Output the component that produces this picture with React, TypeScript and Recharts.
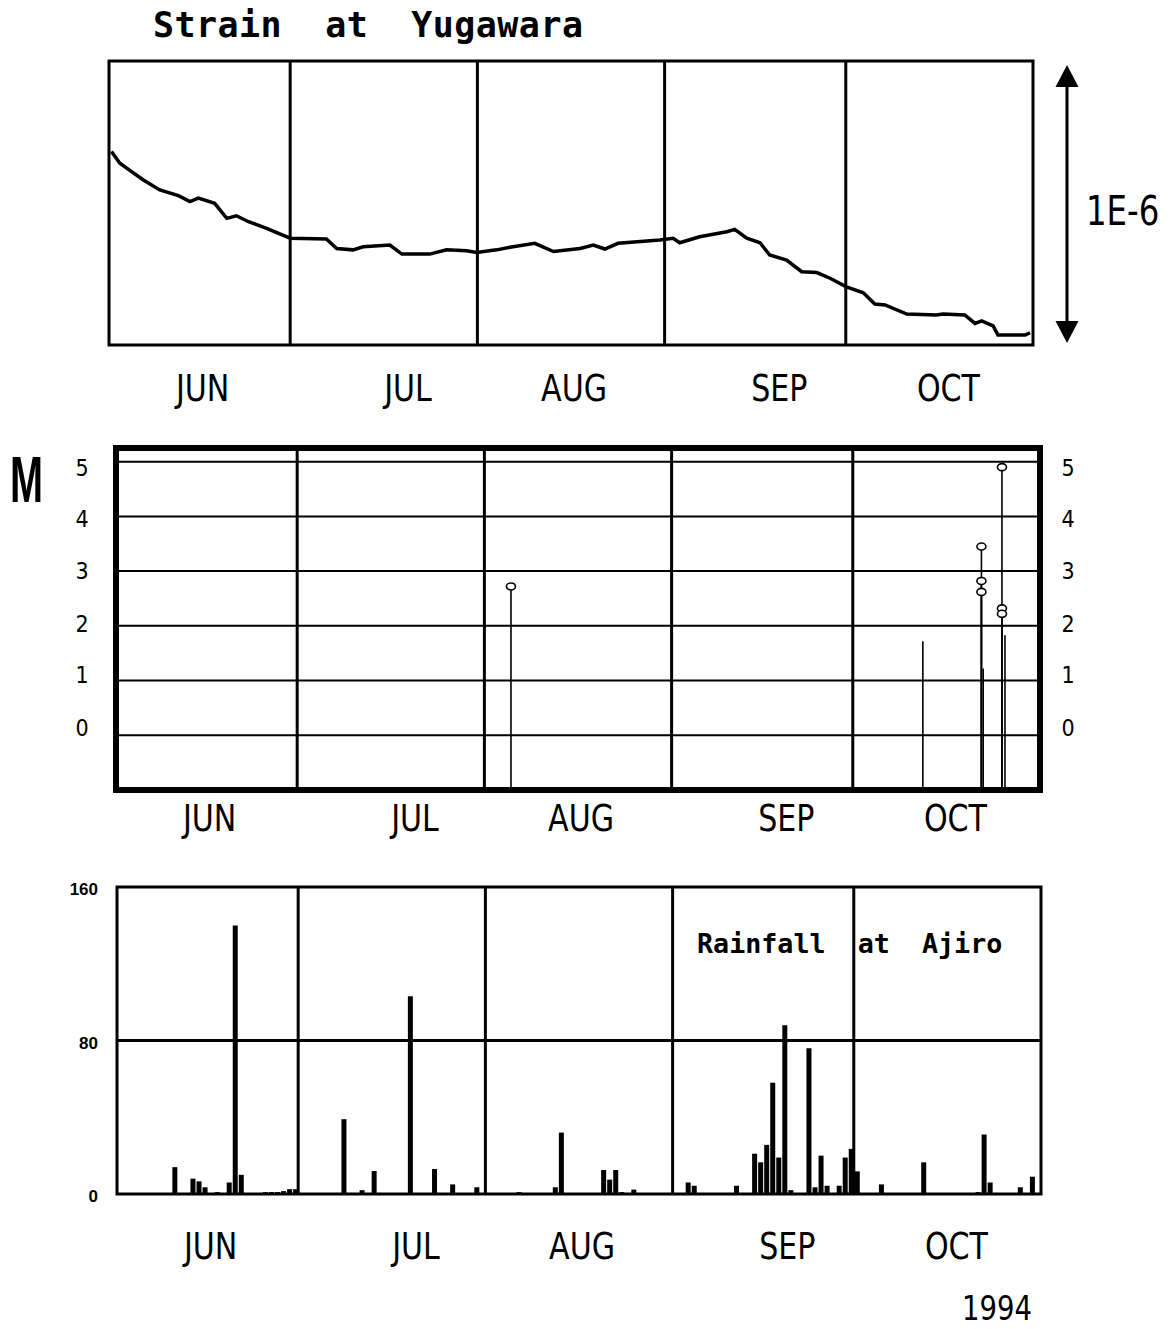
import React from 'react';
import {
  ComposedChart,
  Line,
  Bar,
  Scatter,
  XAxis,
  YAxis,
  ReferenceLine,
  ReferenceArea,
} from 'recharts';

// ---------- shared axis data ----------
const dayDomain: [number, number] = [-0.5, 152.5]; // day index, 0 = 1 June 1994
const monthBoundaries = [29.5, 60.5, 91.5, 121.5];
const monthLabelDays = [15, 49, 76.5, 110.5, 138.5];
const monthLabels = ['JUN', 'JUL', 'AUG', 'SEP', 'OCT'];

// ---------- strain at Yugawara (relative, panel height = 1) ----------
const strainDays = [
  -0.1, 1.3, 3.0, 5.2, 7.9, 11.0, 12.9, 14.3, 17.0, 19.0, 20.6, 22.6, 25.6, 29.5, 35.5,
  37.2, 39.9, 41.6, 46.0, 48.0, 52.6, 55.4, 58.7, 60.4, 63.7, 65.9, 70.0, 73.1, 77.5, 79.7,
  81.6, 83.8, 90.7, 92.9, 94.0, 97.3, 101.8, 103.1, 105.1, 107.3, 108.9, 111.7, 114.2, 116.7,
  118.9, 121.6, 124.4, 126.3, 128.0, 131.6, 136.5, 137.6, 141.2, 142.9, 144.0, 145.9, 146.7,
  151.2, 152.0,
];
const strainValues = [
  0.681, 0.64, 0.614, 0.581, 0.546, 0.526, 0.505, 0.517, 0.499, 0.446, 0.455, 0.434, 0.411,
  0.376, 0.373, 0.34, 0.335, 0.346, 0.352, 0.32, 0.32, 0.335, 0.332, 0.326, 0.335, 0.344,
  0.358, 0.329, 0.34, 0.352, 0.338, 0.358, 0.37, 0.376, 0.36, 0.381, 0.399, 0.407, 0.376,
  0.36, 0.317, 0.299, 0.258, 0.255, 0.235, 0.205, 0.184, 0.144, 0.141, 0.109, 0.106, 0.109,
  0.106, 0.076, 0.085, 0.067, 0.035, 0.035, 0.043,
];

// ---------- earthquakes (magnitude M) ----------
const magDomain: [number, number] = [-1, 5.25];
const magGrid = [0, 1, 2, 3, 4, 5];
const magTickPositions = [0.14, 1.1, 2.04, 3.0, 3.96, 4.89];
const magTickLabels = ['0', '1', '2', '3', '4', '5'];
const quakeDays = [64.9, 133.1, 142.8, 142.8, 142.8, 143.1, 146.2, 146.2, 146.2, 146.7];
const quakeMags = [2.72, 1.72, 3.45, 2.82, 2.62, 1.22, 4.9, 2.32, 2.22, 1.83];
const quakeCircled = [true, false, true, true, true, false, true, true, true, false];

// ---------- rainfall at Ajiro (mm/day) ----------
const rainTicks = [0, 80, 160];
const rainDays = [
  9, 12, 13, 14, 16, 18, 19, 20, 24, 25, 26, 27, 28, 29, 37, 40, 42, 48, 52, 55, 59, 66, 72,
  73, 80, 81, 82, 83, 85, 94, 95, 102, 105, 106, 107, 108, 109, 110, 111, 114, 115, 116, 117,
  119, 120, 121, 122, 126, 133, 142, 143, 144, 149, 151,
];
const rainValues = [
  14, 8, 6.6, 3.5, 1, 6, 140, 10, 1, 1, 1, 1.5, 2.5, 2.5, 39, 2, 12, 103, 13, 5, 3.5, 1, 3.5,
  32, 12.5, 7.5, 12.5, 1, 2.3, 6, 4.3, 4.3, 21, 16.5, 25.6, 58, 19, 88, 2, 76, 3.5, 20, 4.3,
  4.3, 19, 23.5, 11.8, 5, 16.5, 1, 31, 6, 3.5, 9,
];

const NARROW = "'Liberation Sans Narrow', 'DejaVu Sans Condensed', 'Liberation Sans', sans-serif";
const MONO = "'DejaVu Sans Mono', 'Liberation Mono', monospace";
const SANS = "'Liberation Sans', Arial, sans-serif";

const strainData = strainDays.map((d, i) => ({ day: d, value: strainValues[i] }));
const quakes = quakeDays.map((d, i) => ({ day: d, mag: quakeMags[i], circled: quakeCircled[i] }));
const circledQuakes = quakes.filter((q) => q.circled);
const rainData = rainDays.map((d, i) => ({ day: d, rain: rainValues[i] }));

const makeMonthTick = (dy: number) => (props: any) => {
  const { x, y, payload } = props;
  const i = monthLabelDays.indexOf(payload.value);
  return (
    <text
      transform={`translate(${x},${y}) scale(0.88,1)`}
      x={0}
      y={0}
      dy={dy}
      textAnchor="middle"
      fontFamily={NARROW}
      fontSize={38}
      fill="#000"
    >
      {monthLabels[i]}
    </text>
  );
};

const makeMagTick = (dx: number) => (props: any) => {
  const { x, y, payload } = props;
  const i = magTickPositions.indexOf(payload.value);
  return (
    <text x={x + dx} y={y} dy={8} textAnchor="middle" fontFamily={NARROW} fontSize={23} fill="#000">
      {magTickLabels[i]}
    </text>
  );
};

const RainTick = (props: any) => {
  const { x, y, payload } = props;
  return (
    <text x={x - 11} y={y} dy={8} textAnchor="end" fontFamily={SANS} fontWeight="bold" fontSize={17} fill="#000">
      {payload.value}
    </text>
  );
};

const QuakeMarker = (props: any) => {
  const { cx, cy } = props;
  return <ellipse cx={cx} cy={cy} rx={4.5} ry={3.5} fill="#fff" stroke="#000" strokeWidth={1.6} />;
};

function StrainChart() {
  return (
    <div style={{ position: 'absolute', left: 0, top: 0 }}>
      <ComposedChart width={1170} height={430} data={strainData} margin={{ top: 61, left: 109, right: 137, bottom: 25 }}>
        <XAxis
          dataKey="day"
          type="number"
          domain={dayDomain}
          ticks={monthLabelDays}
          interval={0}
          axisLine={false}
          tickLine={false}
          height={60}
          tick={makeMonthTick(48)}
          allowDataOverflow
        />
        <YAxis hide type="number" domain={[0, 1]} allowDataOverflow />
        {monthBoundaries.map((b) => (
          <ReferenceLine key={b} x={b} stroke="#000" strokeWidth={3} />
        ))}
        <Line type="linear" dataKey="value" stroke="#000" strokeWidth={3.5} dot={false} isAnimationActive={false} />
        <ReferenceArea x1={dayDomain[0]} x2={dayDomain[1]} y1={0} y2={1} fill="none" stroke="#000" strokeWidth={3} />
      </ComposedChart>
    </div>
  );
}

function QuakeChart() {
  return (
    <div style={{ position: 'absolute', left: 0, top: 400 }}>
      <ComposedChart width={1170} height={460} data={quakes} margin={{ top: 48, left: 56, right: 70, bottom: 10 }}>
        <XAxis
          dataKey="day"
          type="number"
          domain={dayDomain}
          ticks={monthLabelDays}
          interval={0}
          axisLine={false}
          tickLine={false}
          height={60}
          tick={makeMonthTick(33)}
          allowDataOverflow
        />
        <YAxis
          yAxisId="left"
          dataKey="mag"
          type="number"
          domain={magDomain}
          ticks={magTickPositions}
          interval={0}
          axisLine={false}
          tickLine={false}
          width={60}
          tick={makeMagTick(-26)}
          allowDataOverflow
        />
        <YAxis
          yAxisId="right"
          orientation="right"
          type="number"
          domain={magDomain}
          ticks={magTickPositions}
          interval={0}
          axisLine={false}
          tickLine={false}
          width={60}
          tick={makeMagTick(20)}
          allowDataOverflow
        />
        {magGrid.map((g) => (
          <ReferenceLine key={'g' + g} yAxisId="left" y={g} stroke="#000" strokeWidth={2} />
        ))}
        {monthBoundaries.map((b) => (
          <ReferenceLine key={'b' + b} yAxisId="left" x={b} stroke="#000" strokeWidth={3} />
        ))}
        {quakes.map((q, i) => (
          <ReferenceLine
            key={'q' + i}
            yAxisId="left"
            segment={[
              { x: q.day, y: magDomain[0] },
              { x: q.day, y: q.mag },
            ]}
            stroke="#000"
            strokeWidth={1.6}
          />
        ))}
        <Scatter yAxisId="left" data={circledQuakes} dataKey="mag" shape={<QuakeMarker />} isAnimationActive={false} />
        <ReferenceArea
          yAxisId="left"
          x1={dayDomain[0]}
          x2={dayDomain[1]}
          y1={magDomain[0]}
          y2={magDomain[1]}
          fill="none"
          stroke="#000"
          strokeWidth={6}
        />
      </ComposedChart>
    </div>
  );
}

function RainChart() {
  return (
    <div style={{ position: 'absolute', left: 0, top: 860 }}>
      <ComposedChart width={1170} height={420} data={rainData} margin={{ top: 27, left: 57, right: 129, bottom: 26 }}>
        <XAxis
          dataKey="day"
          type="number"
          domain={dayDomain}
          ticks={monthLabelDays}
          interval={0}
          axisLine={false}
          tickLine={false}
          height={60}
          tick={makeMonthTick(57)}
          allowDataOverflow
        />
        <YAxis
          type="number"
          domain={[0, 160]}
          ticks={rainTicks}
          interval={0}
          axisLine={false}
          tickLine={false}
          width={60}
          tick={<RainTick />}
          allowDataOverflow
        />
        <ReferenceLine y={80} stroke="#000" strokeWidth={3} />
        {monthBoundaries.map((b) => (
          <ReferenceLine key={b} x={b} stroke="#000" strokeWidth={3} />
        ))}
        <Bar dataKey="rain" fill="#000" barSize={5} isAnimationActive={false} />
        <ReferenceArea x1={dayDomain[0]} x2={dayDomain[1]} y1={0} y2={160} fill="none" stroke="#000" strokeWidth={3} />
      </ComposedChart>
    </div>
  );
}

function Annotations() {
  return (
    <svg
      width={1170}
      height={1329}
      style={{ position: 'absolute', left: 0, top: 0, pointerEvents: 'none' }}
    >
      <text x={153} y={37} fontFamily={MONO} fontWeight="bold" fontSize={35} letterSpacing={0.45} xmlSpace="preserve" style={{ whiteSpace: 'pre' }}>
        {'Strain  at  Yugawara'}
      </text>
      <line x1={1067} y1={80} x2={1067} y2={330} stroke="#000" strokeWidth={3} />
      <polygon points="1067,65 1055.5,87 1078.5,87" fill="#000" />
      <polygon points="1067,343 1055.5,321 1078.5,321" fill="#000" />
      <text transform="translate(1086,225) scale(0.9,1)" x={0} y={0} fontFamily={NARROW} fontSize={40}>
        1E-6
      </text>
      <text transform="translate(10,502) scale(0.62,1)" x={0} y={0} fontFamily={SANS} fontWeight="bold" fontSize={64}>
        M
      </text>
      <text x={697} y={953} fontFamily={MONO} fontWeight="bold" fontSize={26.7} xmlSpace="preserve" style={{ whiteSpace: 'pre' }}>
        {'Rainfall  at  Ajiro'}
      </text>
      <text transform="translate(962,1320) scale(0.9,1)" x={0} y={0} fontFamily={NARROW} fontSize={34}>
        1994
      </text>
    </svg>
  );
}

export default function App() {
  return (
    <div style={{ position: 'absolute', left: 0, top: 0, width: 1170, height: 1329, background: '#fff' }}>
      <StrainChart />
      <QuakeChart />
      <RainChart />
      <Annotations />
    </div>
  );
}
